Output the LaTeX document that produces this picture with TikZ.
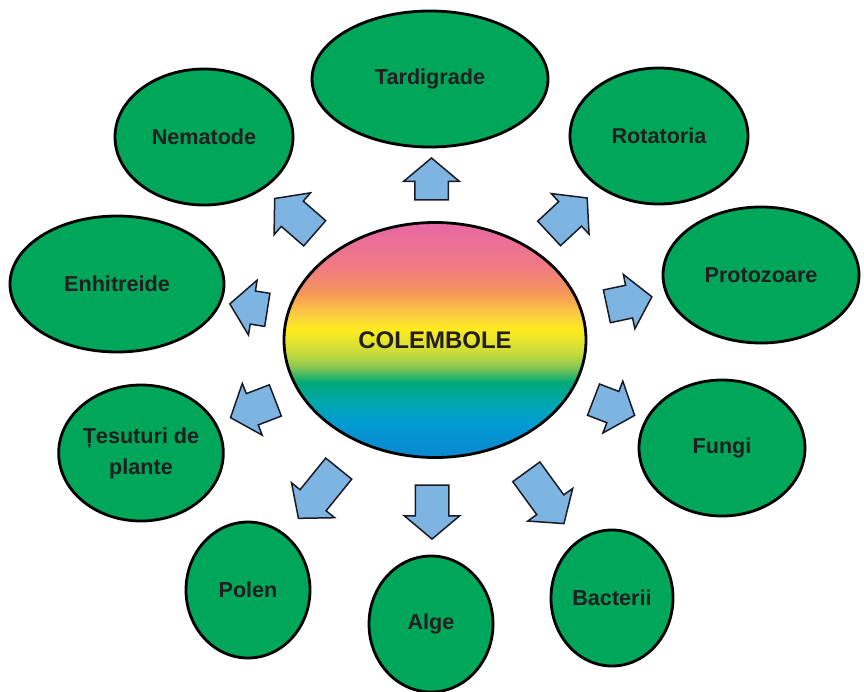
\documentclass[tikz,border=0pt]{standalone}
\usepackage{fontspec}
\setmainfont{Liberation Sans}
\usetikzlibrary{shapes.geometric,shapes.arrows}
\definecolor{leafgreen}{HTML}{00A65A}
\definecolor{txtdark}{HTML}{231F20}
\definecolor{arrowblue}{HTML}{7DB4E2}
\definecolor{arrowline}{HTML}{1A1A24}
\definecolor{rbA}{HTML}{0A8CD2}
\definecolor{rbB}{HTML}{009BD2}
\definecolor{rbC}{HTML}{00A8A8}
\definecolor{rbD}{HTML}{00A878}
\definecolor{rbE}{HTML}{8CC850}
\definecolor{rbF}{HTML}{C8DC3C}
\definecolor{rbG}{HTML}{FFEB1E}
\definecolor{rbH}{HTML}{FAD23C}
\definecolor{rbI}{HTML}{F5965A}
\definecolor{rbJ}{HTML}{F07D80}
\definecolor{rbK}{HTML}{E96AA0}
\pgfdeclareverticalshading{rainbowshade}{100bp}{color(0bp)=(rbA); color(27.3bp)=(rbA); color(32.4bp)=(rbB); color(37.3bp)=(rbC); color(41bp)=(rbD); color(44.4bp)=(rbE); color(47.3bp)=(rbF); color(52.2bp)=(rbG); color(55bp)=(rbH); color(60.1bp)=(rbI); color(65bp)=(rbJ); color(73.5bp)=(rbK); color(100bp)=(rbK)}
\begin{document}
\begin{tikzpicture}[x=1pt,y=-1pt,
  bubble/.style={ellipse, draw=black, line width=2.8pt, fill=leafgreen, inner sep=0pt,
    minimum height=136pt, font=\bfseries\fontsize{21.6}{31}\selectfont, text=txtdark, align=center},
  flowarrow/.style={single arrow, draw=arrowline, fill=arrowblue, line width=1.5pt,
    inner xsep=0pt, inner ysep=16pt, single arrow head extend=11pt,
    single arrow tip angle=100, line join=miter}]
\useasboundingbox (0,0) rectangle (864,691);
% outer bubbles
\node[bubble, minimum width=236pt] (tard) at (430,79) {Tardigrade};
\node[bubble, minimum width=178pt] (nema) at (204,137) {Nematode};
\node[bubble, minimum width=178pt] (rota) at (659,136) {Rotatoria};
\node[bubble, minimum width=214pt] (enhi) at (117,284) {Enhitreide};
\node[bubble, minimum width=196pt] (prot) at (761,275) {Protozoare};
\node[bubble, minimum width=160pt] (tesu) at (141,453) {Țesuturi de\\plante};
\node[bubble, minimum width=166pt] (fung) at (722,448) {Fungi};
\node[bubble, minimum width=124pt] (pole) at (248,590) {Polen};
\node[bubble, minimum width=124pt] (alge) at (431,624) {Alge};
\node[bubble, minimum width=122pt] (bact) at (612,598) {Bacterii};
% centre
\node[ellipse, draw=black, line width=2.8pt, shade, shading=rainbowshade, inner sep=0pt,
  minimum width=302pt, minimum height=235pt, font=\bfseries\fontsize{24}{28}\selectfont, text=txtdark]
  (cole) at (435,340) {COLEMBOLE};
% arrows
\node[flowarrow, minimum height=42pt, rotate=90] (aTard) at (431.5,186) {};
\node[flowarrow, minimum height=53pt, rotate=139] (aNema) at (300,220.5) {};
\node[flowarrow, minimum height=52pt, rotate=43] (aRota) at (563,220.5) {};
\node[flowarrow, minimum height=38pt, rotate=171] (aEnhi) at (255.5,308) {};
\node[flowarrow, minimum height=46pt, rotate=12] (aProt) at (622.5,303) {};
\node[flowarrow, minimum height=48pt, rotate=201] (aTesu) at (259.5,406.5) {};
\node[flowarrow, minimum height=44pt, rotate=-21] (aFung) at (607.5,405) {};
\node[flowarrow, minimum height=64pt, rotate=231] (aPole) at (323,488) {};
\node[flowarrow, minimum height=54pt, rotate=-90] (aAlge) at (432,505) {};
\node[flowarrow, minimum height=64pt, rotate=-54] (aBact) at (541,492) {};
\end{tikzpicture}
\end{document}
